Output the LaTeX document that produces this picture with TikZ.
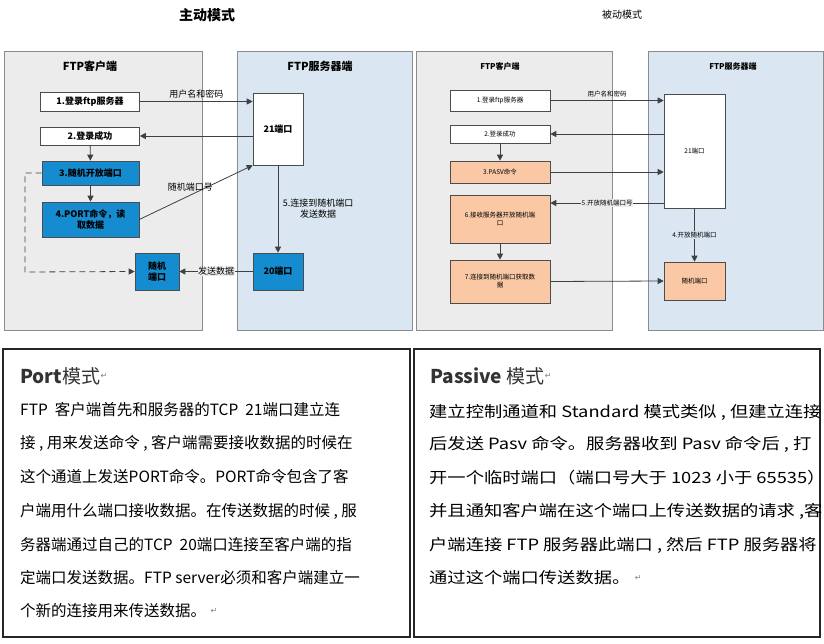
\documentclass[tikz,border=0pt]{standalone}
\usepackage{fontspec}
\usepackage{graphicx}
\setmainfont{Noto Sans CJK SC}
\newfontfamily\retf{DejaVu Sans}
\newcommand\mywide[1]{\scalebox{1.18}[1]{#1}}
\usetikzlibrary{arrows.meta}
\definecolor{blu}{RGB}{22,140,208}
\definecolor{org}{RGB}{250,200,165}
\definecolor{cpan}{RGB}{236,236,236}
\definecolor{span}{RGB}{218,230,242}
\definecolor{pb}{RGB}{140,140,140}
\begin{document}
\begin{tikzpicture}[x=1pt,y=-1pt,
  panel/.style={draw=pb,line width=1pt},
  bx/.style={draw=black!70,line width=0.6pt,minimum width=99pt,align=center,inner sep=1pt},
  pt/.style={font=\fontsize{9}{11}\selectfont\bfseries},
  pt2/.style={font=\fontsize{6.5}{8}\selectfont},
  ar/.style={-{Triangle[length=6pt,width=6pt]},draw=black!75,line width=0.8pt},
  lb/.style={font=\fontsize{9}{11}\selectfont,fill=white,inner sep=0.5pt},
  lb2/.style={font=\fontsize{6.5}{8}\selectfont,inner sep=0.5pt},
  tb/.style={draw=black!85,line width=1.2pt},
  tx/.style={anchor=west,font=\fontsize{15.5}{17}\selectfont,inner sep=0pt},
  ret/.style={font=\retf\fontsize{8}{9}\selectfont,text=gray,inner sep=0pt,anchor=west}]
\useasboundingbox (0,0) rectangle (824,644);
\fill[white] (0,0) rectangle (824,644);
% titles
\node[font=\fontsize{14}{16}\selectfont\bfseries] (t1) at (207,15) {主动模式};
\node[font=\fontsize{10}{12}\selectfont] (t2) at (622,15) {被动模式};
% ===== left diagram
\fill[cpan] (4,52) rectangle (202,330); \draw[panel] (4,52) rectangle (202,330);
\fill[span] (237,52) rectangle (412,330); \draw[panel] (237,52) rectangle (412,330);
\node[font=\fontsize{11}{13}\selectfont\bfseries] (lc) at (90,66) {FTP客户端};
\node[font=\fontsize{11}{13}\selectfont\bfseries] (ls) at (320,66) {FTP服务器端};
\node[bx,fill=white,minimum height=19pt,pt] (a1) at (90,101.5) {1.登录ftp服务器};
\node[bx,fill=white,minimum height=18pt,pt] (a2) at (90,136) {2.登录成功};
\node[bx,fill=blu,minimum width=97pt,minimum height=24pt,pt] (a3) at (90.5,173) {3.随机开放端口};
\node[bx,fill=blu,minimum width=97pt,minimum height=35pt,pt,text width=80pt] (a4) at (90.5,219.5) {4.PORT命令，读\\取数据};
\node[bx,fill=blu,minimum width=44pt,minimum height=37pt,pt,text width=30pt] (ar) at (157,271.5) {随机\\端口};
\node[bx,fill=white,minimum width=50pt,minimum height=72pt,pt] (a21) at (278,129) {21端口};
\node[bx,fill=blu,minimum width=50pt,minimum height=37pt,pt] (a20) at (278,271.5) {20端口};
\draw[ar] (a1.east) -- (a1.east -| a21.west) node[lb,pos=0.5,above=2pt,fill=none] {用户名和密码};
\draw[ar] (a21.west |- a2.east) -- (a2.east);
\draw[ar] (a2) -- (a3);
\draw[ar] (a3) -- (a4);
\draw[ar] (a4.east) -- (a21.south west) node[lb,pos=0.45,above=3pt,fill=none] {随机端口号};
\draw[ar] (a21) -- (a20) node[lb,pos=0.5,right=4pt,fill=none,align=center] {5.连接到随机端口\\发送数据};
\draw[ar] (a20) -- (ar) node[lb,pos=0.5,fill=cpan] {发送数据};
\coordinate (d1) at (25,173);
\coordinate (d2) at (25,272);
\draw[ar,dashed,dash pattern=on 6pt off 4pt] (a3.west) -- (d1) -- (d2) -- (ar.west);
% ===== right diagram
\fill[cpan] (416,52) rectangle (612,330); \draw[panel] (416,52) rectangle (612,330);
\fill[span] (648,52) rectangle (824,330); \draw[panel] (648,52) rectangle (823,330);
\node[font=\fontsize{8}{10}\selectfont\bfseries] (rc) at (500,66) {FTP客户端};
\node[font=\fontsize{8}{10}\selectfont\bfseries] (rs) at (733,66) {FTP服务器端};
\node[bx,fill=white,minimum width=100pt,minimum height=21pt,pt2] (b1) at (500,100.5) {1.登录ftp服务器};
\node[bx,fill=white,minimum width=100pt,minimum height=18pt,pt2] (b2) at (500,134) {2.登录成功};
\node[bx,fill=org,minimum width=100pt,minimum height=22pt,pt2] (b3) at (500,172) {3.PASV命令};
\node[bx,fill=org,minimum width=100pt,minimum height=48pt,pt2,text width=90pt] (b6) at (500,219) {6.接收服务器开放随机端\\口};
\node[bx,fill=org,minimum width=100pt,minimum height=43pt,pt2,text width=90pt] (b7) at (500,281.5) {7.连接到随机端口获取数\\据};
\node[bx,fill=white,minimum width=61pt,minimum height=114pt,pt2] (b21) at (694.5,151) {21端口};
\node[bx,fill=org,minimum width=61pt,minimum height=38pt,pt2] (br) at (694.5,281) {随机端口};
\draw[ar] (b1.east) -- (b1.east -| b21.west) node[lb2,pos=0.5,above=3pt] {用户名和密码};
\draw[ar] (b21.west |- b2.east) -- (b2.east);
\draw[ar] (b2) -- (b3);
\draw[ar] (b3.east) -- (b3.east -| b21.west);
\coordinate (r5) at (664,203);
\draw[ar] (r5) -- (r5 -| b6.east) node[lb2,pos=0.5,fill=cpan] {5.开放随机端口号};
\draw[ar] (b6) -- (b7);
\draw[ar] (b21) -- (br) node[lb2,pos=0.5,fill=span] {4.开放随机端口};
\draw[ar] (b7.east) -- (br.west);
% ===== text boxes
\draw[tb] (3,349) rectangle (410,637);
\draw[tb] (414,349) rectangle (820,637);
\node[tx,font=\fontsize{19}{22}\selectfont,text=black!80] (pt) at (20,376) {\textbf{Port}模式};
\node[ret] (pr) at (pt.east) {↵};
\node[tx] (l1) at (20,410) {FTP\ \ 客户端首先和服务器的TCP\ \ 21端口建立连};
\node[tx] (l2) at (20,443) {接 , 用来发送命令 , 客户端需要接收数据的时候在};
\node[tx] (l3) at (20,477) {这个通道上发送PORT命令。PORT命令包含了客};
\node[tx] (l4) at (20,511) {户端用什么端口接收数据。在传送数据的时候 , 服};
\node[tx] (l5) at (20,545) {务器端通过自己的TCP\ \ 20端口连接至客户端的指};
\node[tx] (l6) at (20,578) {定端口发送数据。FTP server必须和客户端建立一};
\node[tx] (l7) at (20,611) {个新的连接用来传送数据。};
\node[ret] (l7r) at ([xshift=4pt]l7.east) {↵};
\node[tx,font=\fontsize{19}{22}\selectfont,text=black!80] (pv) at (430,376) {\textbf{Passive} 模式};
\node[ret] (pvr) at (pv.east) {↵};
\node[tx] (m1) at (429,412) {\mywide{建立控制通道和 Standard 模式类似 , 但建立连接}};
\node[tx] (m2) at (429,444) {\mywide{后发送 Pasv 命令。服务器收到 Pasv 命令后 , 打}};
\node[tx] (m3) at (429,478) {\mywide{开一个临时端口（端口号大于 1023 小于 65535）}};
\node[tx] (m4) at (429,511) {\mywide{并且通知客户端在这个端口上传送数据的请求 ,客}};
\node[tx] (m5) at (429,545) {\mywide{户端连接 FTP 服务器此端口 , 然后 FTP 服务器将}};
\node[tx] (m6) at (429,578) {\mywide{通过这个端口传送数据。}};
\node[ret] (m6r) at ([xshift=4pt]m6.east) {↵};
\end{tikzpicture}
\end{document}
